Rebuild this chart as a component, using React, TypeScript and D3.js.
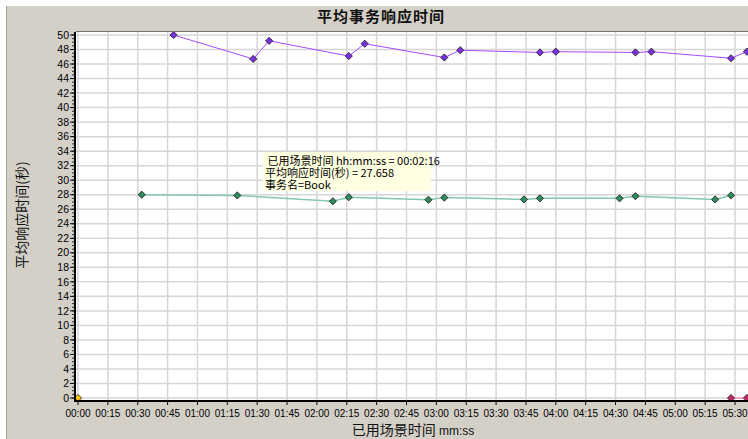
import React from "react";
import * as d3 from "d3";

const xTickSeconds = [0, 15, 30, 45, 60, 75, 90, 105, 120, 135, 150, 165, 180, 195, 210, 225, 240, 255, 270, 285, 300, 315, 330];
const yTicks = [0, 2, 4, 6, 8, 10, 12, 14, 16, 18, 20, 22, 24, 26, 28, 30, 32, 34, 36, 38, 40, 42, 44, 46, 48, 50];

const purpleTimes = [48, 88, 96, 136, 144, 184, 192, 232, 240, 280, 288, 328, 336];
const purpleValues = [50.0, 46.7, 49.2, 47.1, 48.8, 46.9, 47.9, 47.6, 47.7, 47.6, 47.7, 46.8, 47.7];

const bookTimes = [32, 80, 128, 136, 176, 184, 224, 232, 272, 280, 320, 328];
const bookValues = [28.0, 27.9, 27.1, 27.658, 27.3, 27.6, 27.35, 27.5, 27.5, 27.8, 27.35, 27.9];

const pinkTimes = [328, 336];
const pinkValues = [0, 0];

const yellowTimes = [0];
const yellowValues = [0];

const tooltipLines = [" 已用场景时间 hh:mm:ss = 00:02:16", "平均响应时间(秒) = 27.658", "事务名=Book"];

const W = 748;
const H = 439;
const fmt = (s: number) => {
  const m = Math.floor(s / 60);
  const ss = s % 60;
  return `${String(m).padStart(2, "0")}:${String(ss).padStart(2, "0")}`;
};

const cjk = "'Noto Sans CJK SC', 'Liberation Sans', sans-serif";
const num = "'Liberation Sans', Arial, sans-serif";

export default function App() {
  const x = d3.scaleLinear().domain([0, 330]).range([78, 735]);
  const y = d3.scaleLinear().domain([0, 50]).range([398, 35]);
  const plotL = 76, plotT = 32, plotB = 401, plotR = 770;

  const mk = (ts: number[], vs: number[]) => ts.map((t, i) => [t, vs[i]] as [number, number]);
  const line = d3.line<[number, number]>().x(d => x(d[0])).y(d => y(d[1]));

  const series = [
    { data: mk(purpleTimes, purpleValues), line: "#a54cff", fill: "#7b2fe0", w: 1 },
    { data: mk(bookTimes, bookValues), line: "#86c9aa", fill: "#2f8a5c", w: 1.5 },
    { data: mk(pinkTimes, pinkValues), line: "#ff8fb8", fill: "#c42a6a", w: 1.5 },
    { data: mk(yellowTimes, yellowValues), line: "#ffc000", fill: "#ffc400", w: 1 },
  ];

  const minor = d3.range(0, 50.01, 0.5);
  const marker = d3.symbol().type(d3.symbolSquare).size(26);

  return (
    <svg width={W} height={H} style={{ position: "absolute", left: 0, top: 0, background: "#fff" }}>
      <defs>
        <clipPath id="plotclip">
          <rect x={plotL} y={plotT} width={plotR - plotL} height={plotB - plotT + 6} />
        </clipPath>
      </defs>
      <rect x={6} y={6} width={W} height={H} fill="#d4d0c8" />
      <line x1={6.5} y1={6} x2={6.5} y2={H} stroke="#a8a49c" />
      <rect x={plotL} y={plotT} width={plotR - plotL} height={plotB - plotT} fill="#fff" />
      <line x1={plotL} y1={plotT - 0.5} x2={plotR} y2={plotT - 0.5} stroke="#6e6e6e" />
      {yTicks.map(v => (
        <line key={"gy" + v} x1={plotL} x2={plotR} y1={y(v)} y2={y(v)} stroke="#d6d6d6" strokeWidth={1.5} />
      ))}
      {xTickSeconds.map(s => (
        <line key={"gx" + s} x1={x(s)} x2={x(s)} y1={plotT} y2={plotB} stroke="#d6d6d6" strokeWidth={1.5} />
      ))}
      <text x={381} y={22} textAnchor="middle" fontFamily={cjk} fontWeight="bold" fontSize={15} letterSpacing={1} fill="#111">平均事务响应时间</text>
      <g clipPath="url(#plotclip)">
        {series.map((s, i) => (
          <g key={"s" + i}>
            <path d={line(s.data) || ""} fill="none" stroke={s.line} strokeWidth={s.w} />
            {s.data.map((d, j) => (
              <path key={j} d={marker() || ""} transform={`translate(${x(d[0])},${y(d[1])}) rotate(45)`} fill={s.fill} stroke="#222" strokeWidth={0.8} />
            ))}
          </g>
        ))}
      </g>
      {/* axes */}
      <line x1={75} y1={plotT} x2={75} y2={plotB + 1} stroke="#000" strokeWidth={2} />
      <line x1={74} y1={plotB} x2={plotR} y2={plotB} stroke="#000" strokeWidth={2} />
      {minor.map(v => (
        <line key={"m" + v} x1={72} x2={75} y1={y(v)} y2={y(v)} stroke="#000" strokeWidth={0.8} />
      ))}
      {yTicks.map(v => (
        <g key={"yt" + v}>
          <line x1={70} x2={75} y1={y(v)} y2={y(v)} stroke="#000" strokeWidth={1} />
          <text x={69} y={y(v)} dy="0.35em" textAnchor="end" fontFamily={num} fontSize={10.5} fill="#000">{v}</text>
        </g>
      ))}
      {xTickSeconds.map(s => (
        <g key={"xt" + s}>
          <line x1={x(s)} x2={x(s)} y1={plotB} y2={plotB + 4} stroke="#000" strokeWidth={1} />
          <text x={x(s)} y={413} dy="0.35em" textAnchor="middle" fontFamily={num} fontSize={10} fill="#000">{fmt(s)}</text>
        </g>
      ))}
      <text x={413} y={435} textAnchor="middle" fontFamily={cjk} fontSize={14} fill="#111">已用场景时间 <tspan fontFamily={num} fontSize={12}>mm:ss</tspan></text>
      <text transform="translate(27,215) rotate(-90)" textAnchor="middle" fontFamily={cjk} fontSize={14} fill="#111">平均响应时间(秒)</text>
      {/* tooltip */}
      <rect x={263} y={152} width={168} height={39} fill="#ffffe1" />
      {tooltipLines.map((t, i) => (
        <text key={"tt" + i} x={265} y={164.5 + i * 12.3} fontFamily={cjk} fontSize={11} fill="#000" style={{ whiteSpace: "pre" }}>{t}</text>
      ))}
    </svg>
  );
}
